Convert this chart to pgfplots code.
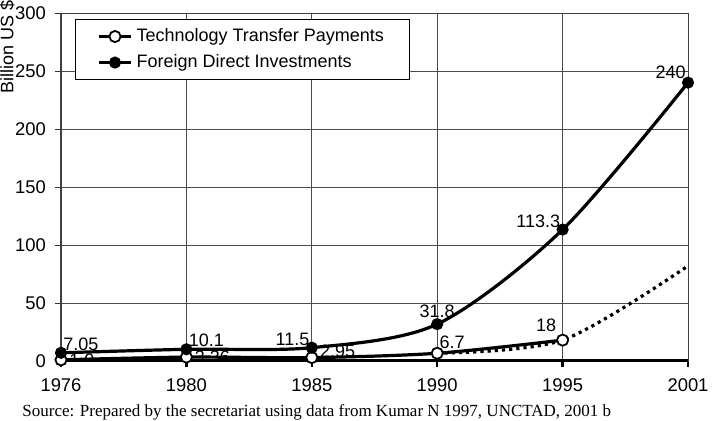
\documentclass[border=0pt]{standalone}
\usepackage{fontspec}
\setmainfont{Liberation Sans}
\newfontfamily\seriffont{Liberation Serif}
\usepackage{pgfplots}
\pgfplotsset{compat=1.18}
\begin{document}
\begin{tikzpicture}[font=\fontsize{9}{10.5}\selectfont]
\begin{axis}[
 at={(0,0)}, anchor=south west,
 scale only axis, width=313.5pt, height=174pt,
 xmin=0, xmax=5, ymin=0, ymax=300,
 xtick={0,1,2,3,4,5}, xticklabels={1976,1980,1985,1990,1995,2001},
 ytick={0,50,100,150,200,250,300},
 /pgf/number format/assume math mode=true,
 grid=major, major grid style={black!70, line width=0.5pt},
 axis line style={black!75, line width=0.5pt},
 tick align=outside, tick pos=left,
 major tick length=3pt,
 xtick style={black, line width=1.2pt},
 ytick style={black!80, line width=0.5pt},
 ticklabel style={font=\fontsize{9.2}{11}\selectfont},
 xticklabel style={yshift=-2.5pt},
 yticklabel style={xshift=-1pt},
 legend style={at={(0.0223,0.9828)}, anchor=north west, draw=black, line width=0.5pt,
   inner xsep=11pt, inner ysep=2.5pt, row sep=1pt, font=\fontsize{9}{10.5}\selectfont},
 legend cell align=left,
 legend image code/.code={\draw[mark repeat=2,mark phase=2,#1] plot coordinates {(0cm,0cm) (0.28cm,0cm) (0.56cm,0cm)};},
]
\draw[line width=1.6pt, black] (axis cs:0,0) -- (axis cs:5,0);
% projection (dotted)
\addplot[forget plot, black, line width=1.6pt, dotted, smooth] coordinates {(3,6.7) (4,18) (5,82)};
\addplot[black, line width=1.6pt, smooth, mark=*, mark options={fill=white, draw=black, line width=0.9pt, solid}, mark size=2.8pt]
  coordinates {(0,1.0) (1,3.36) (2,2.95) (3,6.7) (4,18)};
\addlegendentry{Technology Transfer Payments}
\addplot[black, line width=1.6pt, smooth, mark=*, mark options={fill=black, solid}, mark size=2.2pt]
  coordinates {(0,7.05) (1,10.1) (2,11.5) (3,31.8) (4,113.3) (5,240)};
\addlegendentry{Foreign Direct Investments}
% data labels
\node[anchor=south west, inner sep=1pt] at (axis cs:0,7.05) {7.05};
\node[anchor=south west, inner sep=1pt] at (axis cs:1,10.1) {10.1};
\node[anchor=south east, inner sep=1pt] at (axis cs:2,11.5) {11.5};
\node[anchor=south, inner sep=1pt, yshift=2pt] at (axis cs:3,31.8) {31.8};
\node[anchor=south east, inner sep=1pt] at (axis cs:4,113.3) {113.3};
\node[anchor=south east, inner sep=1pt, yshift=1pt] at (axis cs:5,240) {240};
\node[anchor=west, inner sep=1pt, xshift=3pt] at (axis cs:0,1.0) {1.0};
\node[anchor=west, inner sep=1pt, xshift=3pt, yshift=0pt] at (axis cs:1,3.36) {3.36};
\node[anchor=west, inner sep=1pt, xshift=3pt, yshift=3pt] at (axis cs:2,2.95) {2.95};
\node[anchor=south west, inner sep=1pt, yshift=1pt] at (axis cs:3,6.7) {6.7};
\node[anchor=south east, inner sep=1pt, xshift=-2pt, yshift=3pt] at (axis cs:4,18) {18};
\end{axis}
\node[rotate=90, inner sep=0pt] at (-26.8pt,157pt) {Billion US \$};
\node[anchor=base west, inner sep=0pt] at (-19.5pt,-27.5pt) {\seriffont\fontsize{8.5}{10}\selectfont Source: Prepared by the secretariat using data from Kumar N 1997, UNCTAD, 2001 b};
\pgfresetboundingbox
\useasboundingbox (-30.5pt,-29.5pt) rectangle (328pt,180.5pt);
\end{tikzpicture}
\end{document}
